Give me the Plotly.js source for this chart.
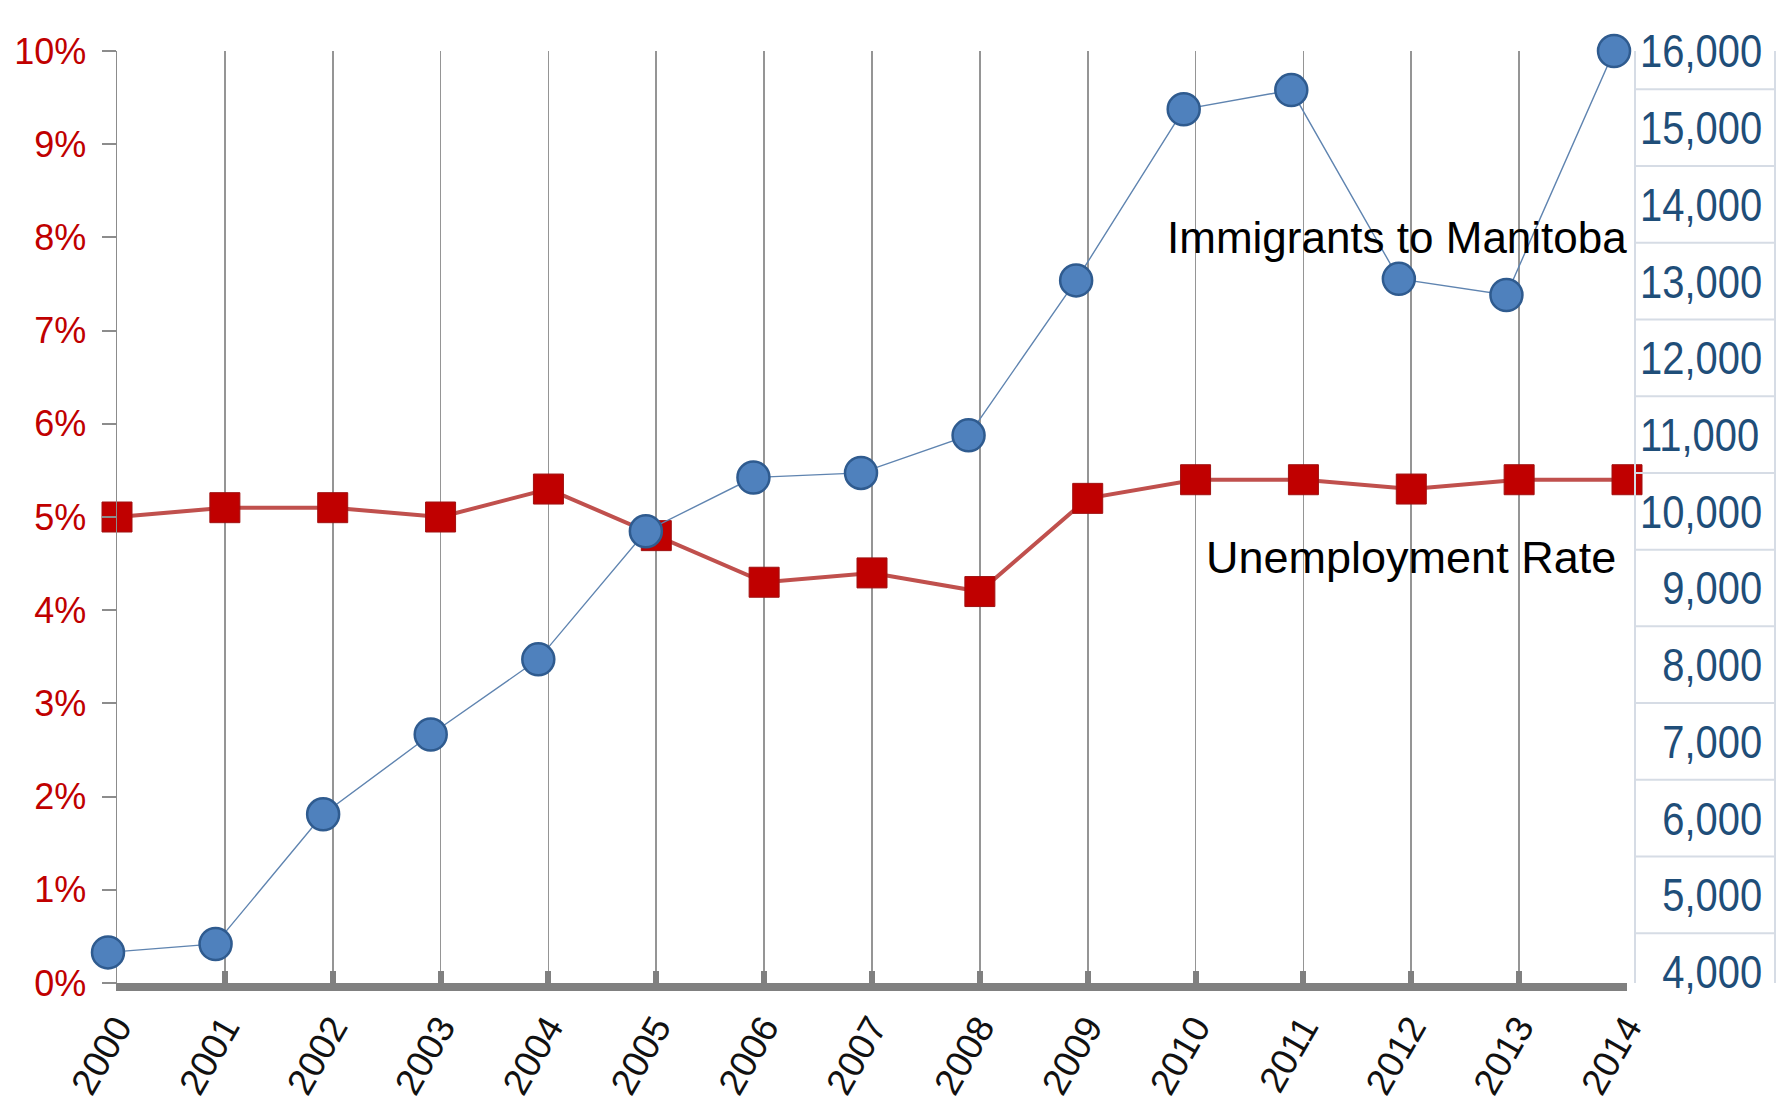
<!DOCTYPE html>
<html>
<head>
<meta charset="utf-8">
<script src="https://cdn.plot.ly/plotly-3.0.1.min.js"></script>
<style>html,body{margin:0;padding:0;background:#fff;}#chart{width:1785px;height:1105px;}</style>
</head>
<body>
<div id="chart"></div>
<script>
// ---- data ----
const years = [2000, 2001, 2002, 2003, 2004, 2005, 2006, 2007, 2008, 2009, 2010, 2011, 2012, 2013, 2014];
const unemploymentRate = [5.0, 5.1, 5.1, 5.0, 5.3, 4.8, 4.3, 4.4, 4.2, 5.2, 5.4, 5.4, 5.3, 5.4, 5.4];
const immigrants = [4250, 4360, 6050, 7090, 8070, 9740, 10440, 10500, 10990, 13010, 15240, 15490, 13030, 12820, 16000];
const leftTicks = [0, 1, 2, 3, 4, 5, 6, 7, 8, 9, 10];
const rightTicks = [4000, 5000, 6000, 7000, 8000, 9000, 10000, 11000, 12000, 13000, 14000, 15000, 16000];
const rightTickText = rightTicks.map(v => (v < 10000 ? '\u2007' : '') + v.toLocaleString('en-US'));
const yearLabels = years.map(String);

// separators of the right-hand label table (between label cells)
const sepVals = rightTicks.map(v => v - 500).concat([16600]);

const W = 1785, ML = 100, MR = 158;
const PW = W - ML - MR;                 // paper width in px
const px = p => (p - ML) / PW;          // page px -> paper fraction

const shapes = sepVals.map(v => ({
  type: 'line', xref: 'paper', yref: 'y2', x0: px(1635), x1: px(1775), y0: v, y1: v,
  line: {color: '#d6dce5', width: 2}
}));
shapes.push({type: 'line', xref: 'paper', yref: 'y2', x0: px(1635), x1: px(1635), y0: 3500, y1: 16600, line: {color: '#d6dce5', width: 2}});
shapes.push({type: 'line', xref: 'paper', yref: 'y2', x0: px(1775), x1: px(1775), y0: 3500, y1: 16600, line: {color: '#d6dce5', width: 2}});

const traces = [
  {
    x: years, y: unemploymentRate, xaxis: 'x', yaxis: 'y', type: 'scatter', mode: 'lines+markers',
    name: 'Unemployment Rate', cliponaxis: false,
    line: {color: '#c0504d', width: 4},
    marker: {symbol: 'square', size: 30, color: '#c00000', line: {color: '#a01010', width: 1}}
  },
  {
    x: years, y: immigrants, xaxis: 'x2', yaxis: 'y2', type: 'scatter', mode: 'lines+markers',
    name: 'Immigrants to Manitoba', cliponaxis: false,
    line: {color: '#5f84b0', width: 1.4},
    marker: {symbol: 'circle', size: 32, color: '#4f81bd', line: {color: '#2f5b8f', width: 2.5}}
  }
];

const layout = {
  width: W, height: 1105,
  margin: {l: ML, r: MR, t: 51, b: 122},
  paper_bgcolor: '#ffffff', plot_bgcolor: 'rgba(0,0,0,0)',
  showlegend: false,
  font: {family: 'Liberation Sans, Arial, sans-serif'},
  xaxis: {
    domain: [px(117), 1], anchor: 'y',
    range: [2000, 2014], tickvals: years, ticktext: yearLabels,
    tickangle: -60, tickfont: {size: 37, color: '#111111'},
    showgrid: true, gridcolor: '#959595', gridwidth: 1.8,
    showline: true, linecolor: '#808080', linewidth: 8,
    ticks: 'inside', ticklen: 12, tickwidth: 6, tickcolor: '#808080',
    zeroline: false
  },
  xaxis2: {
    domain: [px(108), px(1614)], anchor: 'y2',
    range: [2000, 2014], visible: false
  },
  yaxis: {
    domain: [0, 1], anchor: 'x',
    range: [0, 10], tickvals: leftTicks, ticktext: leftTicks.map(v => v + '%'),
    tickfont: {size: 36, color: '#c00000'},
    showgrid: false, zeroline: false,
    showline: true, linecolor: '#8c8c8c', linewidth: 1.5,
    ticks: 'outside', ticklen: 14, tickwidth: 2, tickcolor: '#8c8c8c',
    ticklabelstandoff: 8
  },
  yaxis2: {
    domain: [0, 1], anchor: 'free', position: 1, side: 'right',
    range: [3851, 16000],
    tickvals: rightTicks, ticktext: rightTickText,
    tickfont: {size: 47, color: '#1f4e79', family: 'Liberation Sans, Arial, sans-serif'},
    showgrid: false, zeroline: false, showline: false, ticks: '',
    ticklabelstandoff: 12
  },
  shapes: shapes,
  annotations: [
    {x: 2011.87, y: 8.0, xref: 'x', yref: 'y', text: 'Immigrants to Manitoba', showarrow: false,
     font: {size: 44, color: '#000000', family: 'Liberation Sans, Arial, sans-serif'}},
    {x: 2012.0, y: 4.57, xref: 'x', yref: 'y', text: 'Unemployment Rate', showarrow: false,
     font: {size: 45, color: '#000000', family: 'Liberation Sans, Arial, sans-serif'}}
  ]
};

Plotly.newPlot('chart', traces, layout, {displayModeBar: false, staticPlot: true}).then(gd => {
  // narrow the right-axis numerals to mimic the condensed face in the reference
  gd.querySelectorAll('.y2tick text').forEach(t => {
    const w = t.getComputedTextLength();
    t.setAttribute('textLength', (w * 0.85).toFixed(1));
    t.setAttribute('lengthAdjust', 'spacingAndGlyphs');
  });
});
</script>
</body>
</html>
